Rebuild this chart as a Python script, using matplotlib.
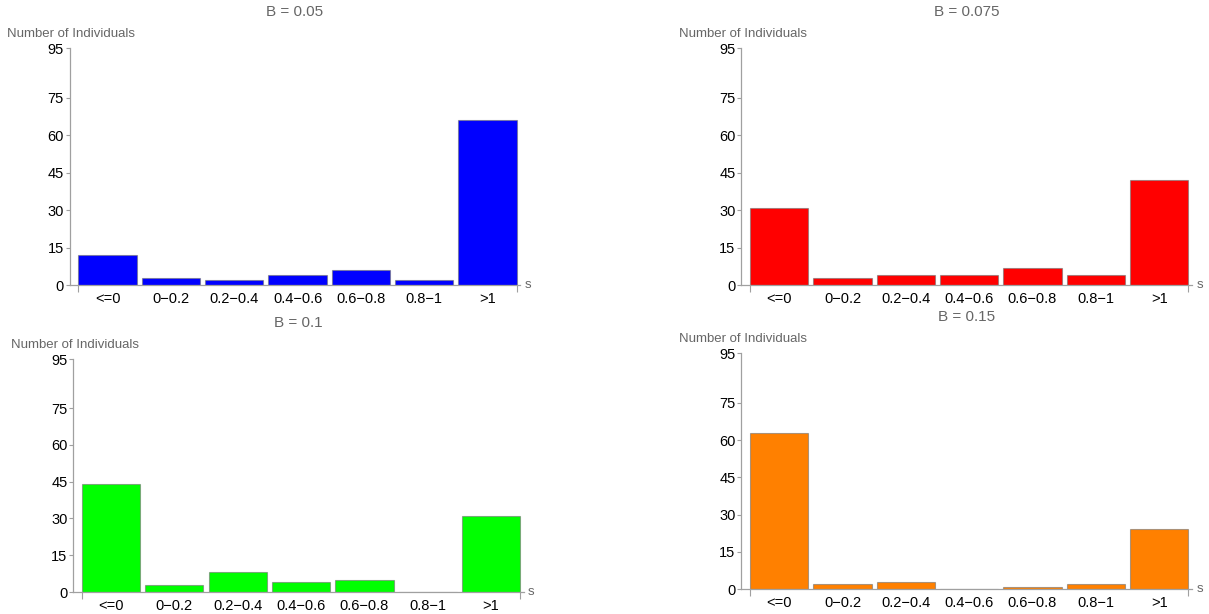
import matplotlib.pyplot as plt

plt.rcParams['font.family'] = ['Liberation Sans', 'DejaVu Sans']

categories = ['<=0', '0\u22120.2', '0.2\u22120.4', '0.4\u22120.6', '0.6\u22120.8', '0.8\u22121', '>1']
yticks = [0, 15, 30, 45, 60, 75, 95]

titles = ['B = 0.05', 'B = 0.075', 'B = 0.1', 'B = 0.15']
counts_005 = [12, 3, 2, 4, 6, 2, 66]
counts_0075 = [31, 3, 4, 4, 7, 4, 42]
counts_01 = [44, 3, 8, 4, 5, 0, 31]
counts_015 = [63, 2, 3, 0, 1, 2, 24]
colors = ['#0000FF', '#FF0000', '#00FF00', '#FF8000']

# axes boxes in figure fraction
boxes = [[0.0575, 0.5358, 0.373, 0.386],
         [0.6130, 0.5358, 0.373, 0.386],
         [0.0604, 0.0358, 0.373, 0.3795],
         [0.6130, 0.0407, 0.373, 0.384]]

fig = plt.figure(figsize=(12.09, 6.14), dpi=100)
axis_grey = '#a0a0a0'
text_grey = '#666666'

for box, title, counts, color in zip(boxes, titles,
                                     [counts_005, counts_0075, counts_01, counts_015],
                                     colors):
    ax = fig.add_axes(box)
    x = range(len(categories))
    ax.bar(x, counts, width=0.92, color=color,
           edgecolor=(0.45, 0.45, 0.45, 0.6), linewidth=0.8)
    ax.set_xlim(-0.6, 6.52)
    ax.set_ylim(0, 95)

    for side in ['top', 'right']:
        ax.spines[side].set_visible(False)
    for side in ['left', 'bottom']:
        ax.spines[side].set_color(axis_grey)
        ax.spines[side].set_linewidth(0.9)

    ax.set_yticks(yticks)
    ax.set_yticklabels([str(t) for t in yticks])
    ax.tick_params(axis='y', length=3, width=0.8, color=axis_grey,
                   labelsize=10.5, pad=1, labelcolor='black')

    # category labels under bars, ticks only at the bar-block ends
    ax.set_xticks(list(x))
    ax.set_xticklabels(categories)
    ax.tick_params(axis='x', length=0, labelsize=10.5, pad=5, labelcolor='black')
    ax.set_xticks([-0.46, 6.46], minor=True)
    ax.tick_params(axis='x', which='minor', length=5, width=0.8, color=axis_grey)

    ax.annotate(title, xy=(0.5, 1), xycoords='axes fraction',
                xytext=(0, 26), textcoords='offset points',
                ha='center', va='center', fontsize=11, color=text_grey)
    ax.annotate('Number of Individuals', xy=(0, 1), xycoords='axes fraction',
                xytext=(-45, 10), textcoords='offset points',
                ha='left', va='center', fontsize=9.5, color=text_grey)
    ax.annotate('s', xy=(1, 0), xycoords='axes fraction',
                xytext=(3, 0), textcoords='offset points',
                ha='left', va='center', fontsize=9.5, color=text_grey)

fig.savefig('out.png', dpi=100)
